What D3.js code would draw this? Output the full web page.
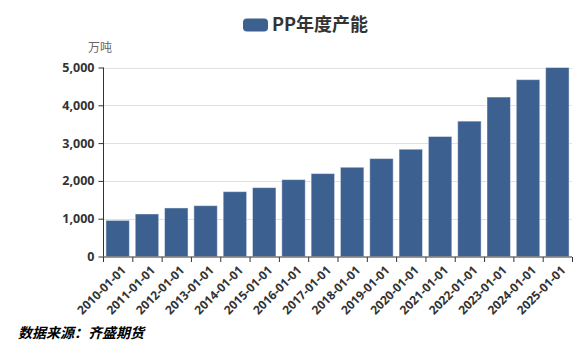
<!DOCTYPE html>
<html>
<head>
<meta charset="utf-8">
<script src="https://cdn.jsdelivr.net/npm/d3@7/dist/d3.min.js"></script>
<style>
  html, body { margin: 0; padding: 0; background: #fff; }
  svg { display: block; font-family: "Noto Sans CJK SC", "Noto Sans", sans-serif; }
</style>
</head>
<body>
<svg id="chart" width="582" height="343"></svg>
<script>
// Annual PP capacity (10k tonnes)
const categories = ["2010-01-01","2011-01-01","2012-01-01","2013-01-01","2014-01-01","2015-01-01","2016-01-01","2017-01-01","2018-01-01","2019-01-01","2020-01-01","2021-01-01","2022-01-01","2023-01-01","2024-01-01","2025-01-01"];
const capacity = [955, 1125, 1284, 1345, 1716, 1822, 2034, 2194, 2361, 2591, 2838, 3175, 3581, 4218, 4679, 5000];
const yTicks = [0, 1000, 2000, 3000, 4000, 5000];
const seriesName = "PP年度产能";
const unitName = "万吨";
const sourceNote = "数据来源：齐盛期货";

const svg = d3.select("#chart");
const plotLeft = 103, plotRight = 572, plotTop = 67.5, plotBottom = 256.5;
const barColor = "#3c6090";

const x = d3.scaleBand().domain(categories).range([plotLeft, plotRight]).paddingInner(0.2).paddingOuter(0.1);
const y = d3.scaleLinear().domain([0, 5000]).range([plotBottom, plotTop]);
const step = (plotRight - plotLeft) / categories.length;

// horizontal grid lines
svg.append("g").selectAll("line").data(yTicks.slice(1)).join("line")
  .attr("x1", plotLeft).attr("x2", plotRight)
  .attr("y1", d => Math.round(y(d)) + 0.5).attr("y2", d => Math.round(y(d)) + 0.5)
  .attr("stroke", "#e0e0e0").attr("stroke-width", 1);

// bars
svg.append("g").selectAll("rect").data(capacity).join("rect")
  .attr("x", (d, i) => x(categories[i]))
  .attr("y", d => y(d))
  .attr("width", x.bandwidth())
  .attr("height", d => plotBottom - y(d))
  .attr("fill", barColor)
  .attr("stroke", "rgba(255,255,255,0.45)")
  .attr("stroke-width", 1);

// y axis
const yAxis = d3.axisLeft(y).tickValues(yTicks).tickSize(5).tickPadding(4).tickFormat(d3.format(","));
const yg = svg.append("g").attr("transform", `translate(${plotLeft + 0.5},0)`).call(yAxis);
yg.select(".domain").attr("stroke", "#333").attr("d", `M0,${plotTop}V${plotBottom}`);
yg.selectAll(".tick line").attr("stroke", "#333");
yg.selectAll(".tick text").attr("fill", "#333").attr("font-size", 12.5).attr("font-weight", "bold")
  .attr("font-family", "'Noto Sans', sans-serif");

// x axis: ticks on category boundaries
const xg = svg.append("g").attr("transform", `translate(0,${plotBottom + 0.5})`);
xg.append("line").attr("x1", plotLeft).attr("x2", plotRight).attr("stroke", "#333");
xg.selectAll("line.tk").data(d3.range(categories.length + 1)).join("line").attr("class", "tk")
  .attr("x1", i => plotLeft + i * step + 0.5).attr("x2", i => plotLeft + i * step + 0.5)
  .attr("y1", 0).attr("y2", 5).attr("stroke", "#333");
xg.selectAll("text").data(categories).join("text")
  .attr("transform", d => `translate(${x(d) + x.bandwidth() / 2 + 3},${8}) rotate(-45)`)
  .attr("text-anchor", "end").attr("dy", "0.7em")
  .attr("font-size", 12).attr("font-weight", "bold").attr("fill", "#333")
  .attr("font-family", "'Noto Sans', sans-serif")
  .text(d => d);

// axis unit
svg.append("text").attr("x", 100).attr("y", 51.5).attr("text-anchor", "middle")
  .attr("font-size", 12).attr("fill", "#666").text(unitName);

// legend
svg.append("rect").attr("x", 243).attr("y", 18.5).attr("width", 25).attr("height", 13).attr("rx", 4)
  .attr("fill", barColor);
svg.append("text").attr("x", 272).attr("y", 31).attr("font-size", 18).attr("font-weight", "bold")
  .attr("fill", "#333").text(seriesName);

// source note
svg.append("text").attr("x", 18).attr("y", 338).attr("font-size", 14).attr("font-weight", "bold")
  .attr("font-style", "italic").attr("fill", "#000").text(sourceNote);
</script>
</body>
</html>
